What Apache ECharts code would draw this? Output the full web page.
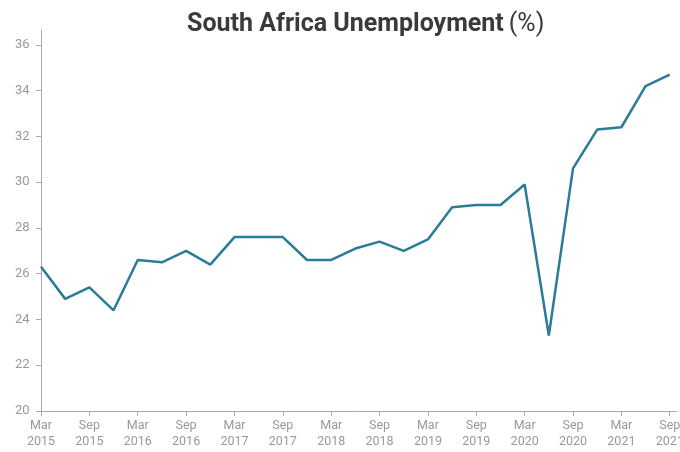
<!DOCTYPE html>
<html><head><meta charset="utf-8">
<script src="https://cdn.jsdelivr.net/npm/echarts@6/dist/echarts.min.js"></script>
<style>html,body{margin:0;padding:0;background:#fff}#c{width:680px;height:452px}</style>
</head><body><div id="c"></div>
<script>
const categories = ['Mar 2015','Jun 2015','Sep 2015','Dec 2015','Mar 2016','Jun 2016','Sep 2016','Dec 2016',
 'Mar 2017','Jun 2017','Sep 2017','Dec 2017','Mar 2018','Jun 2018','Sep 2018','Dec 2018',
 'Mar 2019','Jun 2019','Sep 2019','Dec 2019','Mar 2020','Jun 2020','Sep 2020','Dec 2020',
 'Mar 2021','Jun 2021','Sep 2021'];
const unemployment = [26.3,24.9,25.4,24.4,26.6,26.5,27.0,26.4,27.6,27.6,27.6,26.6,26.6,27.1,27.4,27.0,
 27.5,28.9,29.0,29.0,29.9,23.3,30.6,32.3,32.4,34.2,34.7];
const yTicks = [20,22,24,26,28,30,32,34,36];
const xTickIdx = categories.map((c,i)=>i).filter(i=>i%2===0);

const font = '"Roboto","Liberation Sans",sans-serif';
const chart = echarts.init(document.getElementById('c'));
chart.setOption({
  animation:false,
  title:{
    text:'{b|South Africa Unemployment} {l|(%)}',
    left:182, top:7,
    textStyle:{rich:{
      b:{fontFamily:font,fontWeight:'bold',fontSize:25,color:'#3a3a3a'},
      l:{fontFamily:font,fontWeight:'normal',fontSize:25,color:'#3a3a3a'}
    }}
  },
  grid:{left:38.6,right:3,top:30,bottom:41,containLabel:false,outerBoundsMode:'none'},
  xAxis:{
    type:'value', min:-0.1, max:26.3,
    splitLine:{show:false},
    axisLine:{lineStyle:{color:'#aaa',width:1}},
    axisTick:{show:true,length:5,lineStyle:{color:'#aaa'},customValues:xTickIdx},
    axisLabel:{customValues:xTickIdx,color:'#999',fontFamily:font,fontSize:12.5,lineHeight:16,margin:7,
      formatter:v=>{const c=categories[Math.round(v)]||'';return c.replace(' ','\n');}}
  },
  yAxis:{
    type:'value', min:20, max:36.65,
    splitLine:{show:false},
    axisLine:{show:true,lineStyle:{color:'#aaa',width:1}},
    axisTick:{show:true,length:5,lineStyle:{color:'#aaa'},customValues:yTicks},
    axisLabel:{customValues:yTicks,color:'#999',fontFamily:font,fontSize:13,margin:9}
  },
  series:[{
    type:'line',
    data:unemployment.map((v,i)=>[i,v]),
    showSymbol:false,
    lineStyle:{color:'#2b7c99',width:2.5},
    itemStyle:{color:'#2b7c99'}
  }]
});
</script></body></html>
